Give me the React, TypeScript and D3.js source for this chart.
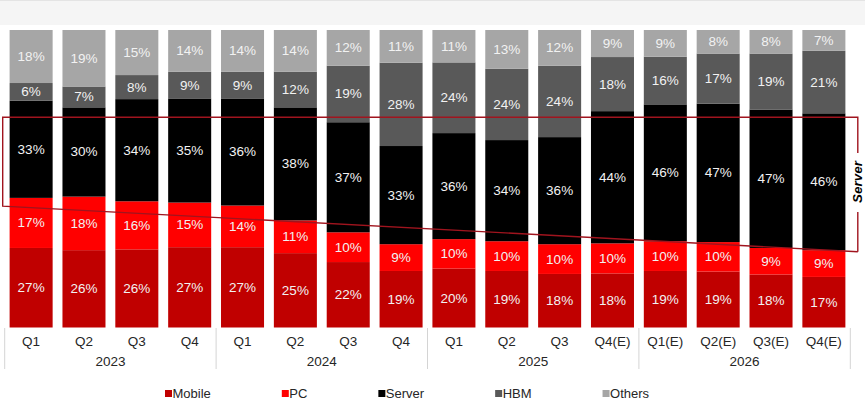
import { useEffect, useRef } from "react";
import * as d3 from "d3";

const quarters = [
  "Q1", "Q2", "Q3", "Q4",
  "Q1", "Q2", "Q3", "Q4",
  "Q1", "Q2", "Q3", "Q4(E)",
  "Q1(E)", "Q2(E)", "Q3(E)", "Q4(E)",
];
const years = ["2023", "2024", "2025", "2026"];

const mobile = [27, 26, 26, 27, 27, 25, 22, 19, 20, 19, 18, 18, 19, 19, 18, 17];
const pc = [17, 18, 16, 15, 14, 11, 10, 9, 10, 10, 10, 10, 10, 10, 9, 9];
const server = [33, 30, 34, 35, 36, 38, 37, 33, 36, 34, 36, 44, 46, 47, 47, 46];
const hbm = [6, 7, 8, 9, 9, 12, 19, 28, 24, 24, 24, 18, 16, 17, 19, 21];
const others = [18, 19, 15, 14, 14, 14, 12, 11, 11, 13, 12, 9, 9, 8, 8, 7];

const seriesNames = ["Mobile", "PC", "Server", "HBM", "Others"];
const seriesColors = ["#c00000", "#ff0000", "#000000", "#595959", "#a6a6a6"];

const FONT = "Arial, 'Liberation Sans', sans-serif";

const App = () => {
  const svgRef = useRef<SVGSVGElement>(null);
  const width = 865;
  const height = 401;

  useEffect(() => {
    const svg = d3.select(svgRef.current);
    svg.selectAll("*").remove();

    const rows = quarters.map((q, i) => ({
      idx: i,
      q,
      Mobile: mobile[i],
      PC: pc[i],
      Server: server[i],
      HBM: hbm[i],
      Others: others[i],
    }));

    // top band
    svg.append("rect").attr("x", 0).attr("y", 0).attr("width", width).attr("height", 25).attr("fill", "#f5f5f5");
    svg.append("line").attr("x1", 0).attr("x2", width).attr("y1", 0.5).attr("y2", 0.5).attr("stroke", "#e4e4e4");

    const x = d3
      .scaleBand<number>()
      .domain(rows.map((d) => d.idx))
      .range([4.7, 850.3])
      .paddingInner(0.186)
      .paddingOuter(0.093);

    const y = d3.scaleLinear().domain([0, 1]).range([327.5, 30]);

    const stack = d3
      .stack<any>()
      .keys(seriesNames)
      .offset(d3.stackOffsetExpand);
    const series = stack(rows);

    const layers = svg
      .selectAll(".layer")
      .data(series)
      .enter()
      .append("g")
      .attr("class", "layer")
      .attr("fill", (_d, i) => seriesColors[i]);

    layers
      .selectAll("rect")
      .data((d) => d)
      .enter()
      .append("rect")
      .attr("x", (d) => x(d.data.idx)!)
      .attr("width", x.bandwidth())
      .attr("y", (d) => y(d[1]))
      .attr("height", (d) => y(d[0]) - y(d[1]));

    // segment labels
    layers
      .selectAll("text")
      .data((d) => d.map((v) => ({ v, key: d.key })))
      .enter()
      .append("text")
      .attr("x", (d) => x(d.v.data.idx)! + x.bandwidth() / 2)
      .attr("y", (d) => (y(d.v[0]) + y(d.v[1])) / 2)
      .attr("text-anchor", "middle")
      .attr("dominant-baseline", "central")
      .attr("fill", "#f2f2f2")
      .style("font-family", FONT)
      .style("font-size", "13.5px")
      .text((d) => `${d.v.data[d.key]}%`);

    // category axis
    const axis = svg.append("g");
    axis
      .selectAll(".q")
      .data(rows)
      .enter()
      .append("text")
      .attr("x", (d) => x(d.idx)! + x.bandwidth() / 2)
      .attr("y", 346)
      .attr("text-anchor", "middle")
      .attr("fill", "#262626")
      .style("font-family", FONT)
      .style("font-size", "13.5px")
      .text((d) => d.q);

    const step = x.step();
    const x0 = x.range()[0];
    axis
      .selectAll(".sep")
      .data(d3.range(years.length + 1))
      .enter()
      .append("line")
      .attr("x1", (i) => x0 + i * 4 * step)
      .attr("x2", (i) => x0 + i * 4 * step)
      .attr("y1", 328)
      .attr("y2", 369)
      .attr("stroke", "#d4d4d4")
      .attr("stroke-width", 1);

    axis
      .selectAll(".yr")
      .data(years)
      .enter()
      .append("text")
      .attr("x", (_d, i) => x0 + (i * 4 + 2) * step)
      .attr("y", 366)
      .attr("text-anchor", "middle")
      .attr("fill", "#262626")
      .style("font-family", FONT)
      .style("font-size", "13.5px")
      .text((d) => d);

    // Server annotation box
    const left = x0 - 2;
    const right = x.range()[1] + 7.5;
    const top = y(0.7066);
    const botL = y(0.408);
    const botR = y(0.2548);
    const red = "#a0141e";
    svg
      .append("path")
      .attr("d", `M${right},${botR} L${left},${botL} L${left},${top} L${right},${top} L${right},153`)
      .attr("fill", "none")
      .attr("stroke", red)
      .attr("stroke-width", 1.4);
    svg
      .append("line")
      .attr("x1", right)
      .attr("x2", right)
      .attr("y1", 212)
      .attr("y2", botR)
      .attr("stroke", red)
      .attr("stroke-width", 1.4);
    svg
      .append("text")
      .attr("transform", `translate(${right - 0.5},182) rotate(-90)`)
      .attr("text-anchor", "middle")
      .attr("dominant-baseline", "central")
      .attr("fill", "#000")
      .style("font-family", FONT)
      .style("font-size", "13.5px")
      .style("font-weight", "bold")
      .style("font-style", "italic")
      .text("Server");

    // legend
    const legend = svg.append("g");
    let lx = 165;
    seriesNames.forEach((name, i) => {
      legend
        .append("rect")
        .attr("x", lx)
        .attr("y", 390)
        .attr("width", 7)
        .attr("height", 7)
        .attr("fill", seriesColors[i]);
      const t = legend
        .append("text")
        .attr("x", lx + 7.5)
        .attr("y", 397.5)
        .attr("fill", "#262626")
        .style("font-family", FONT)
        .style("font-size", "13px")
        .text(name);
      const w = (t.node() as SVGTextElement).getComputedTextLength();
      lx = lx + 7.5 + w + 71;
    });
  }, []);

  return (
    <svg
      ref={svgRef}
      width={width}
      height={height}
      style={{ position: "absolute", left: 0, top: 0, background: "#fff" }}
    />
  );
};

export default App;
